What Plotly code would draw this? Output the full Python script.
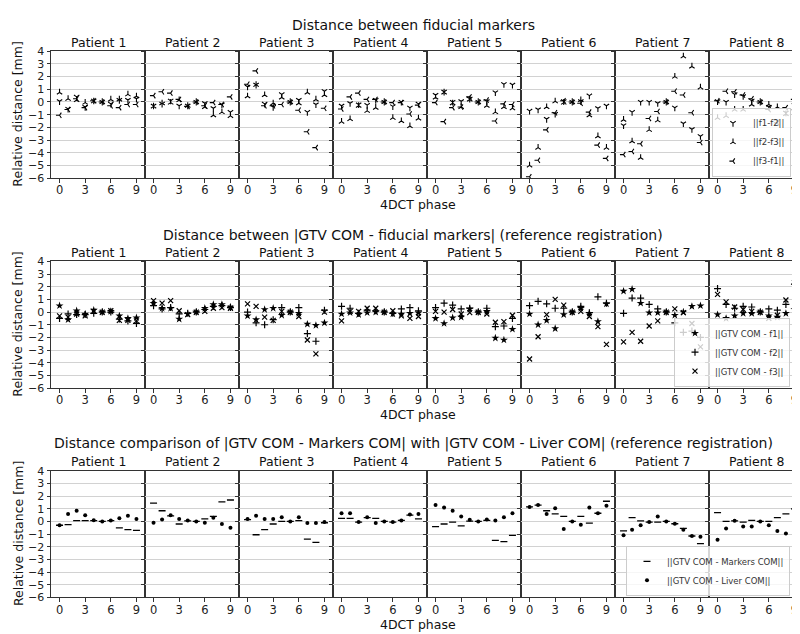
import plotly.graph_objects as go

# ---------------- data ----------------
patients = [f"Patient {i}" for i in range(1, 9)]
phases = list(range(10))
x_tick_vals = [0, 3, 6, 9]
y_tick_vals = list(range(-6, 5))

row_titles = [
    "Distance between fiducial markers",
    "Distance between |GTV COM - fiducial markers| (reference registration)",
    "Distance comparison of |GTV COM - Markers COM| with |GTV COM - Liver COM| (reference registration)",
]
x_label = "4DCT phase"
y_label = "Relative distance [mm]"

# Row 1: inter-marker distances (one list of 10 phases per patient)
f1_f2 = [
    [0.05, -0.55, 0.4, -0.4, 0.1, 0, -0.15, 0.15, 0.15, 0.25],
    [-0.3, -0.15, 0.1, -0.3, -0.3, 0, -0.1, -0.5, -0.2, -0.8],
    [1.2, 1.35, -0.15, -0.4, 0.6, 0, 0.15, -0.8, -0.2, 0.85],
    [-0.3, -0.1, -0.2, -0.25, 0.15, 0, -0.35, 0.0, -0.45, -0.15],
    [0.55, 0.8, 0.0, 0.05, 0.25, 0, 0.05, 0.75, 1.4, 1.35],
    [-0.7, -0.6, -1.35, -0.95, 0.05, 0, 0.05, 0.5, -0.5, -0.3],
    [-1.85, -0.8, 0.0, 0.0, -0.1, 0, -0.45, -1.7, -2.15, -2.7],
    [0.05, 0.0, 0.6, 0.45, 0.1, 0, -0.4, -1.5, -0.85, -0.25],
]
f2_f3 = [
    [0.75, 0.25, 0.15, -0.05, 0.05, 0, 0.2, 0.2, 0.6, 0.45],
    [-0.35, -0.1, -0.05, 0.15, -0.3, 0, -0.4, -1.05, -0.8, -1.1],
    [0.45, 1.35, 0.55, -0.1, 0.35, 0, -0.1, 0.75, 0.2, 0.55],
    [-1.55, -1.35, -0.3, -0.7, -0.45, 0, -1.25, -1.5, -1.9, -1.3],
    [0.35, 0.75, -0.1, -0.4, 0.2, 0, -0.3, -0.8, -0.4, -0.5],
    [-5.0, -3.6, -0.4, 0.05, -0.05, 0, 0.15, -1.05, -2.7, -3.6],
    [-1.4, -3.1, -4.4, -2.2, -1.45, 0, 2.0, 3.6, 2.8, 1.15],
    [-1.25, -1.1, -0.6, -0.6, -0.2, 0, -0.2, -0.4, -0.95, -0.5],
]
f3_f1 = [
    [-1.05, -0.6, 0.25, -0.45, 0.1, 0, -0.3, -0.45, -0.2, -0.2],
    [0.5, 0.8, 0.7, 0.2, -0.35, 0, -0.3, -0.05, -0.2, 0.4],
    [1.4, 2.45, -0.3, -0.3, -0.2, 0, -0.65, -2.35, -3.6, -0.5],
    [-0.55, 0.4, 0.7, 0.2, 0.2, 0, -0.05, -0.05, -0.95, -0.25],
    [-0.05, -1.55, -0.45, -0.4, 0.4, 0, 0.15, -1.5, -0.15, -0.2],
    [-5.9, -4.6, -2.2, -0.85, 0.1, 0, -0.1, -0.8, -3.4, -4.45],
    [-4.15, -3.9, -3.3, -1.3, -0.75, 0, 0.85, 0.55, -0.85, -3.2],
    [0.1, 0.85, 0.8, 0.55, 0.25, 0, -0.6, -1.65, -0.45, 0.2],
]

# Row 2: GTV COM to each fiducial marker
gtv_f1 = [
    [0.5, -0.6, 0.1, -0.15, 0.15, 0, 0.05, -0.3, -0.5, -0.45],
    [0.7, 0.3, 0.3, -0.55, -0.15, 0, 0.3, 0.6, 0.6, 0.4],
    [-0.3, -0.6, 0.2, 0.3, -0.25, 0, -0.1, -0.95, -1.05, -0.85],
    [-0.15, -0.05, -0.2, -0.05, 0.0, 0, -0.15, -0.15, -0.1, -0.05],
    [-0.5, -0.9, -0.45, -0.4, 0.25, 0, 0.05, -2.05, -2.2, -1.35],
    [-0.15, -1.0, -0.65, -1.3, -0.2, 0, 0.3, -0.1, -0.75, 0.65],
    [1.65, 1.8, 0.7, -0.05, -0.05, 0, -0.25, 0.0, 0.45, 0.5],
    [-0.2, -0.5, -0.3, -0.1, -0.1, 0, -0.3, -0.4, -0.1, 0.2],
]
gtv_f2 = [
    [-0.5, -0.15, -0.2, -0.2, -0.1, 0, 0.0, -0.55, -0.7, -0.9],
    [0.5, 0.25, 0.35, -0.15, -0.1, 0, 0.2, 0.45, 0.5, 0.35],
    [0.0, -0.85, -1.0, -0.6, 0.35, 0, 0.35, -1.7, -2.3, 0.15],
    [0.45, 0.3, -0.1, 0.15, 0.1, 0, -0.1, 0.25, 0.35, 0.1],
    [0.35, 0.7, 0.55, 0.25, 0.3, 0, 0.3, -1.15, -1.1, -0.5],
    [0.5, 0.85, 0.65, 0.3, 0.3, 0, 0.45, -0.05, 1.2, 0.7],
    [-0.1, 1.1, 1.1, 0.6, 0.25, 0, -0.85, -1.6, -1.5, -2.0],
    [1.85, 0.6, 0.3, 0.45, 0.4, 0, 0.25, 0.15, 0.6, 2.2],
]
gtv_f3 = [
    [-0.3, -0.4, -0.15, -0.3, 0.05, 0, 0.1, -0.65, -0.65, -0.7],
    [0.9, 0.7, 0.9, 0.1, -0.2, 0, 0.05, 0.3, 0.35, 0.3],
    [0.65, 0.45, -0.4, -0.65, 0.05, 0, -0.35, -2.2, -3.3, 0.0],
    [-0.7, 0.05, 0.05, 0.3, 0.3, 0, 0.1, -0.3, -0.5, -0.35],
    [0.05, 0.0, 0.2, -0.15, -0.05, 0, -0.15, -0.8, -0.75, -0.25],
    [-3.7, -1.95, -0.2, 1.0, 0.55, 0, 0.05, -0.35, -1.15, -2.55],
    [-2.35, -1.6, -2.3, -1.1, -0.7, 0, 0.25, -0.05, -0.9, -2.75],
    [1.4, 0.8, 0.4, 0.2, 0.05, 0, -0.5, -0.25, 0.95, 2.35],
]

# Row 3: GTV COM to markers COM / liver COM
markers_com = [
    [-0.3, -0.25, 0.07, 0.07, 0.07, 0, 0.07, -0.5, -0.65, -0.7],
    [1.45, 0.85, 0.45, -0.2, 0.05, 0, 0.2, 0.4, 1.55, 1.7],
    [0.15, -1.05, -0.65, -0.2, 0.0, 0, 0.07, -1.4, -1.65, -0.1],
    [0.25, 0.25, -0.05, 0.3, 0.25, 0, -0.05, 0.08, 0.5, 0.2],
    [-0.4, -0.2, -0.05, -0.35, 0.03, 0, 0.08, -1.5, -1.6, -1.1],
    [1.15, 1.3, 0.85, 0.6, 0.4, 0, 0.4, -0.13, 0.65, 1.6],
    [-0.75, 0.3, 0.05, -0.05, -0.05, 0, -0.18, -0.55, -1.15, -1.75],
    [0.7, 0.0, 0.05, -0.05, 0.08, 0, 0.0, 0.3, 0.6, 1.0],
]
liver_com = [
    [-0.3, 0.6, 0.85, 0.5, 0.1, 0, 0.07, 0.25, 0.45, 0.2],
    [-0.1, 0.15, 0.5, 0.2, 0.07, 0, -0.1, 0.3, -0.2, -0.5],
    [0.2, 0.45, 0.2, 0.2, 0.33, 0, 0.33, -0.13, -0.13, -0.05],
    [0.65, 0.65, -0.05, 0.33, -0.12, 0, -0.05, 0.08, 0.55, 0.6],
    [1.3, 1.1, 0.85, 0.4, 0.13, 0, 0.15, 0.08, 0.33, 0.65],
    [1.15, 1.3, 0.6, 1.05, -0.6, 0, -0.25, 1.1, 0.65, 1.25],
    [-1.1, -0.65, -0.3, -0.05, 0.4, 0, -0.18, -0.65, -1.15, -1.2],
    [-1.45, -0.55, 0.05, -0.4, -0.4, 0, -0.3, -0.75, -0.95, -1.35],
]

row_series = [
    [("||f1-f2||", f1_f2, "y-down"), ("||f2-f3||", f2_f3, "y-up"), ("||f3-f1||", f3_f1, "y-left")],
    [("||GTV COM - f1||", gtv_f1, "star"), ("||GTV COM - f2||", gtv_f2, "cross-thin"),
     ("||GTV COM - f3||", gtv_f3, "x-thin")],
    [("||GTV COM - Markers COM||", markers_com, "line-ew"), ("||GTV COM - Liver COM||", liver_com, "circle")],
]

# ---------------- layout geometry (pixels) ----------------
W, H = 800, 634
PANEL_L, PANEL_W = 43, 94
ROW_TOP = [38, 252.5, 466.5]
ROW_BOT = [167.5, 382, 595.5]
TITLE_Y = [11.5, 226, 439]
PAT_Y = [29.5, 243.5, 457]
XLAB_Y = [194.5, 409, 623]
LEG_LEFT = [704, 666, 618]
LEG_BOTTOM = [166, 380.5, 594]
FONT = "DejaVu Sans"
AX_COL = "#333333"
TICK_SIZE = 11


def fx(p):
    return p / W


def fy(p):
    return 1 - p / H


marker_style = {
    "y-down": dict(size=4.5, line=dict(width=1.1, color="black")),
    "y-up": dict(size=4.5, line=dict(width=1.1, color="black")),
    "y-left": dict(size=4.5, line=dict(width=1.1, color="black")),
    "star": dict(size=6, line=dict(width=0)),
    "cross-thin": dict(size=5, line=dict(width=1.2, color="black")),
    "x-thin": dict(size=5, line=dict(width=1.2, color="black")),
    "line-ew": dict(size=5, line=dict(width=1.3, color="black")),
    "circle": dict(size=4, line=dict(width=0)),
}

fig = go.Figure()
layout = {}
annotations = []
legend_names = ["legend", "legend2", "legend3"]

for r in range(3):
    for c in range(8):
        k = r * 8 + c + 1
        sfx = "" if k == 1 else str(k)
        x0 = PANEL_L + PANEL_W * c
        layout["xaxis" + sfx] = dict(
            domain=[fx(x0), fx(x0 + PANEL_W)], range=[-1, 10], anchor="y" + sfx,
            tickmode="array", tickvals=x_tick_vals, ticks="outside", ticklen=3.5,
            tickcolor=AX_COL, tickwidth=1, showline=True, linecolor=AX_COL, linewidth=1,
            mirror=True, showgrid=False, zeroline=False, ticklabelstandoff=-2,
            tickfont=dict(family=FONT, size=TICK_SIZE + 0.5, color="#222"),
        )
        layout["yaxis" + sfx] = dict(
            domain=[fy(ROW_BOT[r]), fy(ROW_TOP[r])], range=[-6, 4], anchor="x" + sfx,
            tickmode="array", tickvals=y_tick_vals, ticks="outside", ticklen=3.5,
            tickcolor=AX_COL, tickwidth=1, showticklabels=(c == 0),
            showline=True, linecolor=AX_COL, linewidth=1, mirror=True,
            showgrid=True, gridcolor="#d2d2d2", gridwidth=1.2, zeroline=False,
            tickfont=dict(family=FONT, size=TICK_SIZE, color="#222"),
        )
        for name, data, sym in row_series[r]:
            ms = marker_style[sym]
            fig.add_trace(go.Scatter(
                x=phases, y=data[c], mode="markers", name=name,
                xaxis="x" + sfx, yaxis="y" + sfx,
                legend=legend_names[r], legendgroup=f"r{r}{name}",
                showlegend=(c == 7),
                marker=dict(symbol=sym, color="black", size=ms["size"], line=ms["line"]),
                hoverinfo="skip",
            ))
        annotations.append(dict(
            text=patients[c], x=fx(x0 + PANEL_W / 2), y=fy(PAT_Y[r]),
            xref="paper", yref="paper", xanchor="center", yanchor="middle",
            showarrow=False, font=dict(family=FONT, size=12.5, color="#111"),
        ))
    annotations.append(dict(
        text=row_titles[r], x=fx(405), y=fy(TITLE_Y[r]), xref="paper", yref="paper",
        xanchor="center", yanchor="middle", showarrow=False,
        font=dict(family=FONT, size=14, color="#111"),
    ))
    annotations.append(dict(
        text=x_label, x=fx(410), y=fy(XLAB_Y[r]), xref="paper", yref="paper",
        xanchor="center", yanchor="middle", showarrow=False,
        font=dict(family=FONT, size=12.5, color="#111"),
    ))
    annotations.append(dict(
        text=y_label, x=fx(10), y=fy((ROW_TOP[r] + ROW_BOT[r]) / 2), xref="paper", yref="paper",
        xanchor="center", yanchor="middle", textangle=-90, showarrow=False,
        font=dict(family=FONT, size=12.5, color="#111"),
    ))
    layout[legend_names[r]] = dict(
        x=fx(LEG_LEFT[r]), y=fy(LEG_BOTTOM[r]), xanchor="left", yanchor="bottom",
        bgcolor="rgba(255,255,255,0.8)", bordercolor="#cccccc", borderwidth=1,
        font=dict(family=FONT, size=8.5, color="#333"), tracegroupgap=0, itemwidth=30,
    )

fig.update_layout(
    width=W, height=H, margin=dict(l=0, r=0, t=0, b=0),
    paper_bgcolor="white", plot_bgcolor="white", showlegend=True,
    font=dict(family=FONT, color="#111"), annotations=annotations, **layout,
)

fig.write_html("out.html")
